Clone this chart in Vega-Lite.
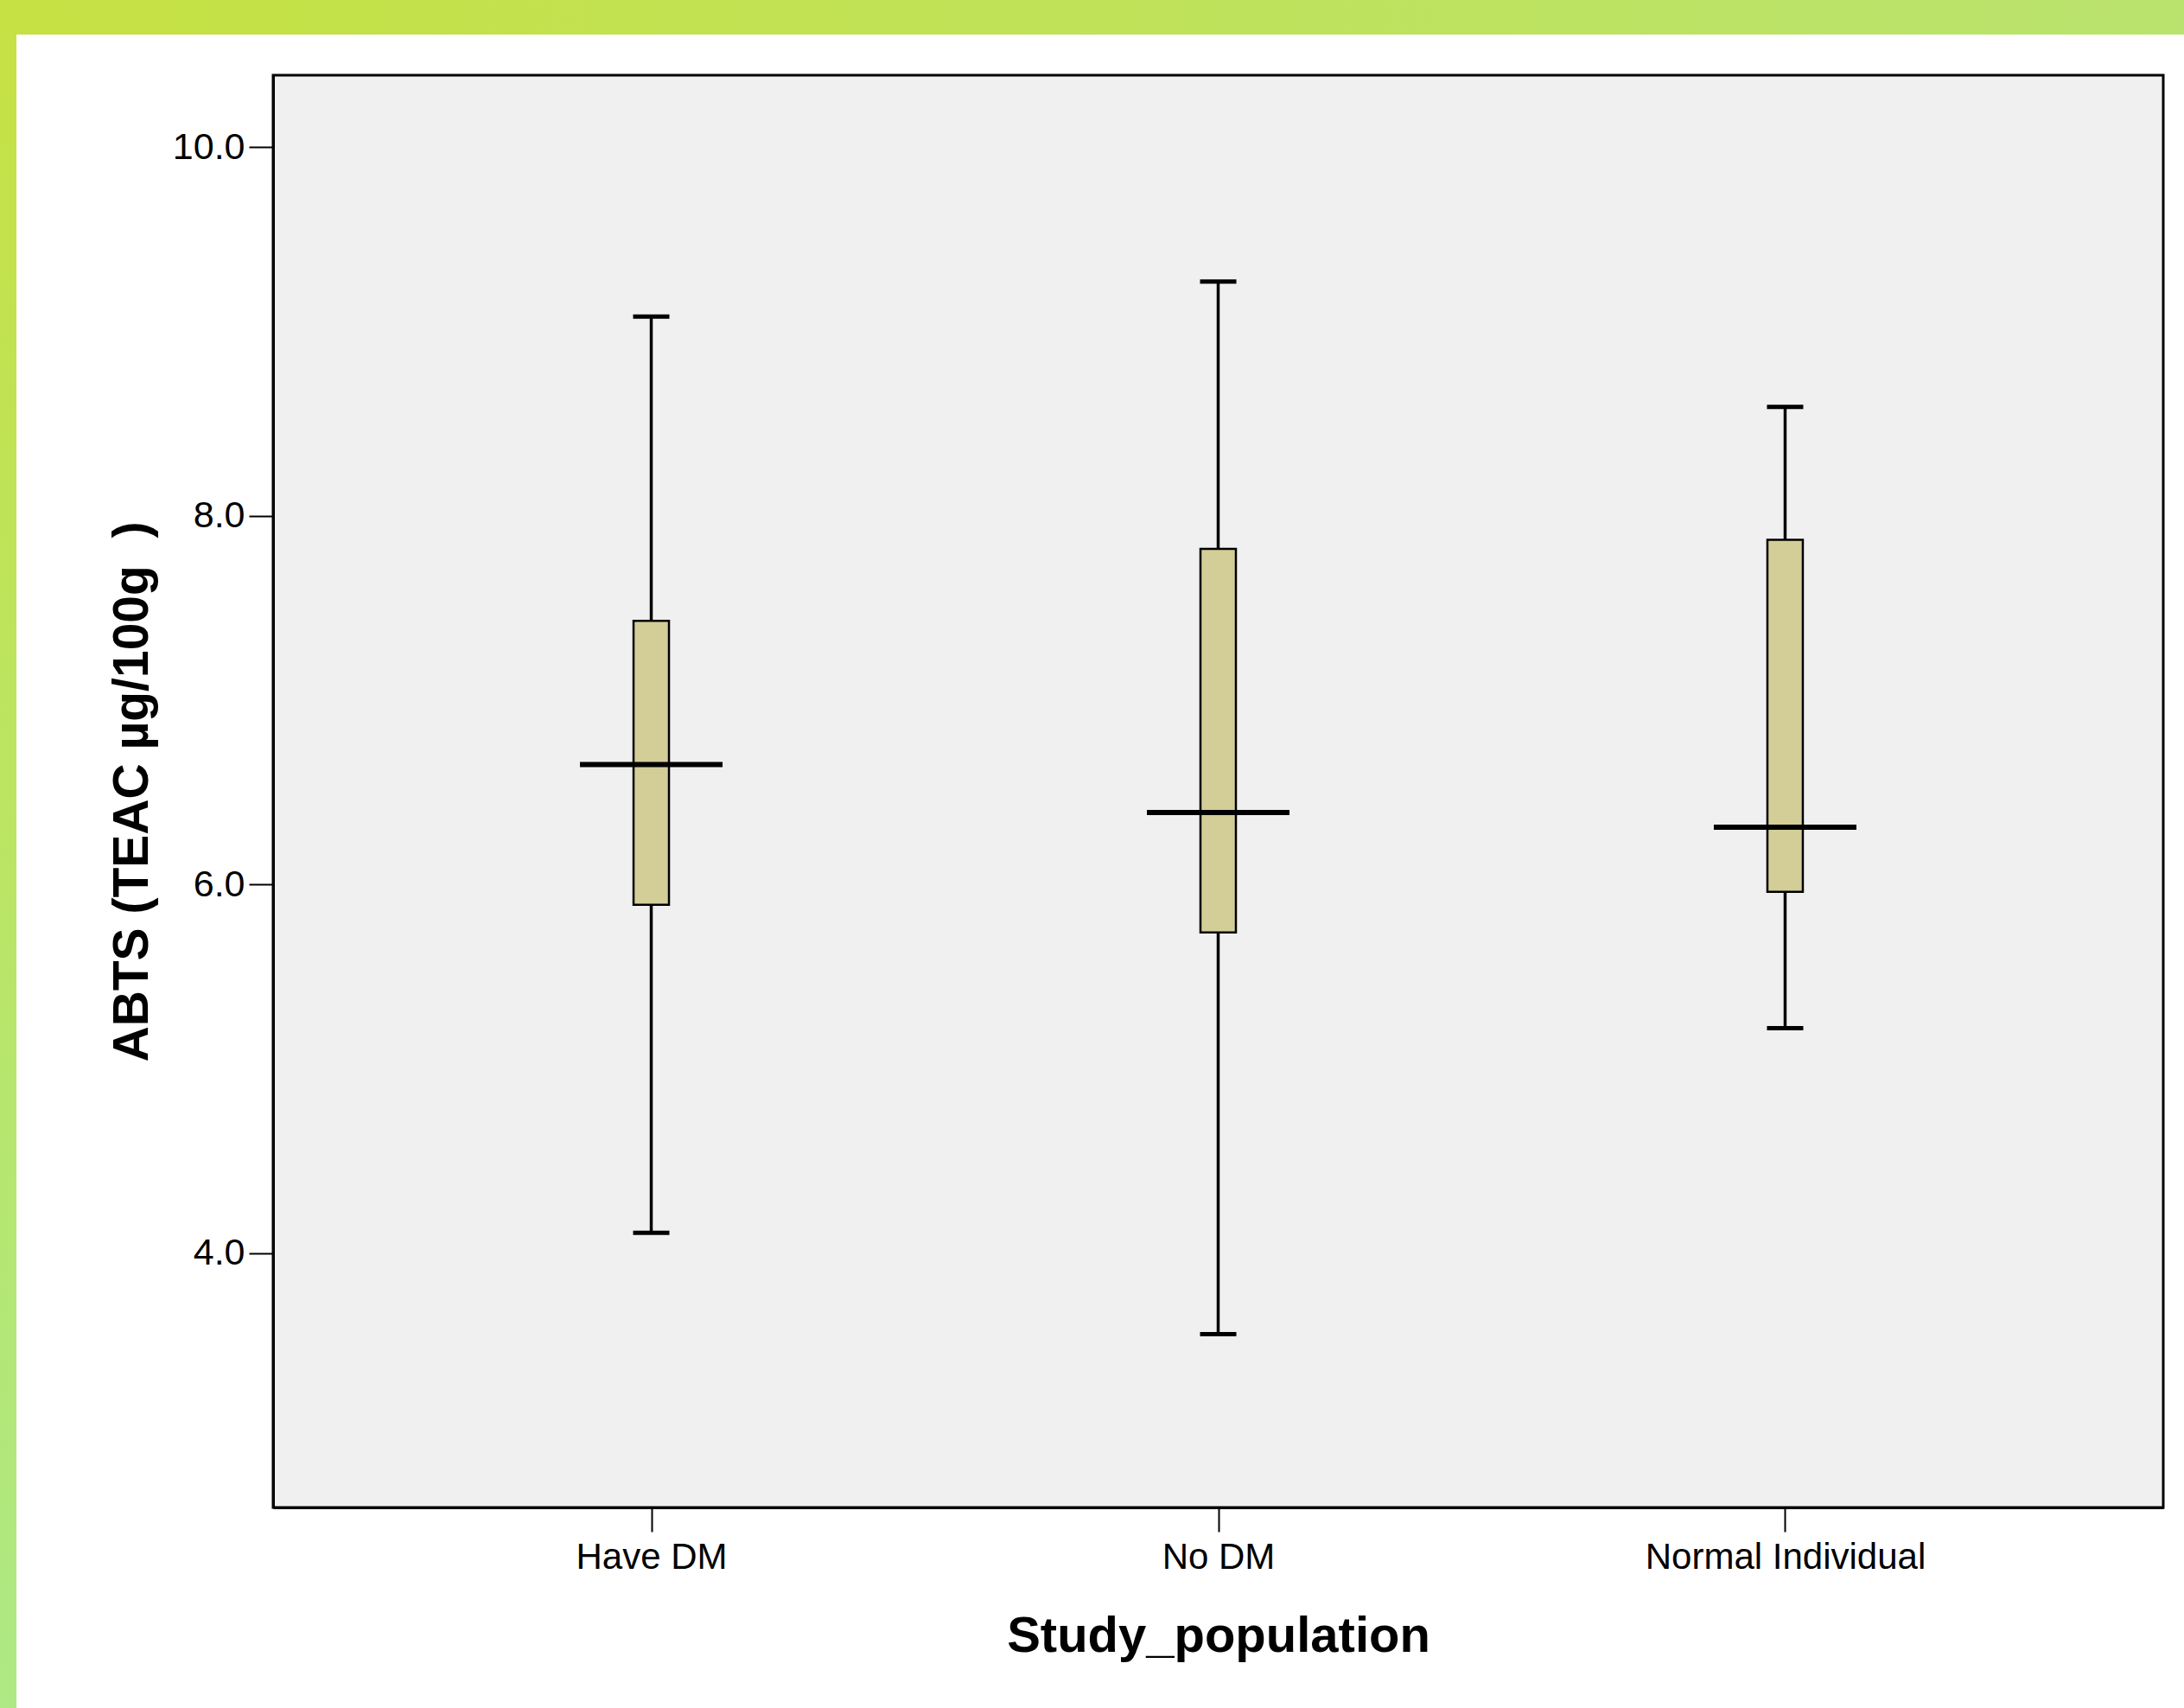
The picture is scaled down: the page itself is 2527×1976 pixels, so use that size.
{
  "$schema": "https://vega.github.io/schema/vega-lite/v6.json",
  "padding": 0,
  "autosize": {"type": "pad"},
  "background": "#ffffff",
  "columns": 3,
  "spacing": 0,
  "bounds": "flush",
  "align": "each",
  "config": {
    "view": {"stroke": null},
    "font": "Liberation Sans",
    "axis": {
      "domainColor": "#000000",
      "domainWidth": 3,
      "tickColor": "#000000",
      "labelColor": "#000000",
      "titleColor": "#000000",
      "labelFont": "Liberation Sans",
      "titleFont": "Liberation Sans",
      "titleFontWeight": "bold",
      "grid": false
    }
  },
  "datasets": {
    "summary": [
      {"group": "Have DM", "min": 4.11, "q1": 5.89, "center": 6.65, "q3": 7.43, "max": 9.08},
      {"group": "No DM", "min": 3.56, "q1": 5.74, "center": 6.39, "q3": 7.82, "max": 9.27},
      {"group": "Normal Individual", "min": 5.22, "q1": 5.96, "center": 6.31, "q3": 7.87, "max": 8.59}
    ]
  },
  "concat": [
    {"width": 19, "height": 40, "data": {"values": []}, "mark": "rect",
     "view": {"stroke": null, "fill": "#c6e143"}},
    {"width": 297, "height": 40, "data": {"values": []}, "mark": "rect",
     "view": {"stroke": null, "fill": {"gradient": "linear", "x1": 0, "y1": 0, "x2": 1, "y2": 0, "stops": [{"offset": 0, "color": "#c6e143"}, {"offset": 1, "color": "#c4e148"}]}}},
    {"width": 2211, "height": 40, "data": {"values": []}, "mark": "rect",
     "view": {"stroke": null, "fill": {"gradient": "linear", "x1": 0, "y1": 0, "x2": 1, "y2": 0, "stops": [{"offset": 0, "color": "#c4e148"}, {"offset": 1, "color": "#b9e36e"}]}}},
    {"width": 19, "height": 47, "data": {"values": []}, "mark": "rect",
     "view": {"stroke": null, "fill": "#c5e145"}},
    {"width": 297, "height": 1, "data": {"values": []}, "mark": "rect",
     "view": {"stroke": null, "fill": null}},
    {"width": 2211, "height": 1, "data": {"values": []}, "mark": "rect",
     "view": {"stroke": null, "fill": null}},
    {"width": 19, "height": 1889, "data": {"values": []}, "mark": "rect",
     "view": {"stroke": null, "fill": {"gradient": "linear", "x1": 0, "y1": 0, "x2": 0, "y2": 1, "stops": [{"offset": 0, "color": "#c5e146"}, {"offset": 1, "color": "#aee985"}]}}},
    {"width": 297, "height": 1, "data": {"values": []}, "mark": "rect",
     "view": {"stroke": null, "fill": null}},
    {
      "width": 2187,
      "height": 1657,
      "data": {"name": "summary"},
      "view": {"fill": "#f0f0f0", "stroke": "#000000", "strokeWidth": 3},
      "encoding": {
        "x": {
          "field": "group", "type": "nominal", "sort": null, "title": "Study_population",
          "scale": {"type": "point", "padding": 0.667},
          "axis": {"labelAngle": 0, "labelLimit": 0, "labelFontSize": 42, "labelPadding": 9, "tickSize": 28, "tickWidth": 2, "titleFontSize": 58, "titlePadding": 42}
        }
      },
      "layer": [
        {
          "mark": {"type": "rule", "color": "#000000", "strokeWidth": 3.5},
          "encoding": {
            "y": {
              "field": "min", "type": "quantitative", "title": "ABTS (TEAC µg/100g\u00a0\u00a0)",
              "scale": {"domain": [2.62, 10.39], "nice": false, "zero": false},
              "axis": {"values": [4, 6, 8, 10], "format": ".1f", "labelFontSize": 43, "labelPadding": 5, "tickSize": 28, "tickWidth": 2, "titleFontSize": 57, "titlePadding": 17}
            },
            "y2": {"field": "max"}
          }
        },
        {
          "mark": {"type": "bar", "size": 41, "fill": "#d3ce97", "stroke": "#000000", "strokeWidth": 2.5},
          "encoding": {
            "y": {"field": "q1", "type": "quantitative", "title": "ABTS (TEAC µg/100g\u00a0\u00a0)"},
            "y2": {"field": "q3"}
          }
        },
        {
          "mark": {"type": "tick", "size": 165, "thickness": 6, "color": "#000000", "opacity": 1},
          "encoding": {"y": {"field": "center", "type": "quantitative", "title": "ABTS (TEAC µg/100g\u00a0\u00a0)"}}
        },
        {
          "mark": {"type": "tick", "size": 42, "thickness": 5, "color": "#000000", "opacity": 1},
          "encoding": {"y": {"field": "min", "type": "quantitative", "title": "ABTS (TEAC µg/100g\u00a0\u00a0)"}}
        },
        {
          "mark": {"type": "tick", "size": 42, "thickness": 5, "color": "#000000", "opacity": 1},
          "encoding": {"y": {"field": "max", "type": "quantitative", "title": "ABTS (TEAC µg/100g\u00a0\u00a0)"}}
        }
      ]
    }
  ]
}
